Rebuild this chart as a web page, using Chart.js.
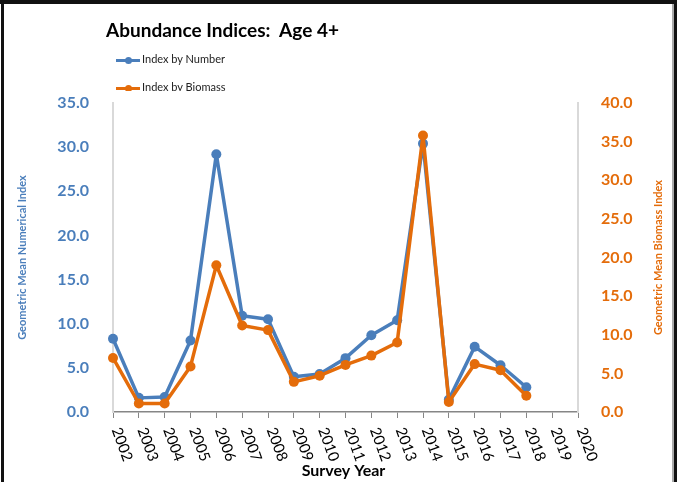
<!DOCTYPE html>
<html lang="en">
<head>
<meta charset="UTF-8">
<script src="https://cdn.jsdelivr.net/npm/chart.js"></script>
<title>Abundance Indices: Age 4+</title>
<style>
    body { margin: 0; background: #fff; }
    .wrap { position: relative; width: 677px; height: 482px; overflow: hidden; font-family: Lato, "Open Sans", sans-serif; }
    .wrap canvas { position: absolute; left: 0; top: 0; }
    .title { position: absolute; left: 106px; top: 18px; font-size: 19px; font-weight: bold; color: #000; white-space: pre; }
    .legend { position: absolute; left: 116px; top: 48px; width: 200px; height: 43px; overflow: hidden; font-size: 11px; color: #222; }
    .legend div { position: absolute; left: 0; height: 14px; line-height: 14px; white-space: nowrap; }
    .legend span.line { display: inline-block; position: relative; width: 24px; height: 3px; vertical-align: middle; margin-right: 2px; }
    .legend span.line:after { content: ""; position: absolute; left: 9px; top: -2px; width: 7px; height: 7px; border-radius: 50%; background: inherit; }
    .bord { position: absolute; background: #111; }
</style>
</head>
<body>
<div class="wrap">
    <canvas id="abundChart"></canvas>
    <div class="title">Abundance Indices:  Age 4+</div>
    <div class="legend">
        <div style="top:4px"><span class="line" style="background:#4a7ebb"></span>Index by Number</div>
        <div style="top:32px"><span class="line" style="background:#e46c0a"></span>Index by Biomass</div>
    </div>
    <div class="bord" style="left:0;top:0;width:677px;height:4px"></div>
    <div class="bord" style="left:1px;top:0;width:3px;height:482px"></div>
    <div class="bord" style="left:674px;top:0;width:3px;height:482px"></div>
    <div class="bord" style="left:672px;top:4px;width:2px;height:478px;background:#aaa"></div>
</div>

<script>
    const years = ['2002', '2003', '2004', '2005', '2006', '2007', '2008', '2009', '2010', '2011',
        '2012', '2013', '2014', '2015', '2016', '2017', '2018', '2019', '2020'];
    // 2002-2018 (no data for 2019, 2020)
    const indexByNumber = [8.3, 1.6, 1.7, 8.1, 29.2, 10.9, 10.5, 4.0, 4.3, 6.1, 8.7, 10.4, 30.4, 1.4, 7.4, 5.3, 2.8];
    const indexByBiomass = [7.0, 1.1, 1.1, 5.9, 19.0, 11.2, 10.6, 3.9, 4.7, 6.1, 7.3, 9.0, 35.8, 1.3, 6.2, 5.4, 2.1];
    const leftTicks = [0, 5, 10, 15, 20, 25, 30, 35];
    const rightTicks = [0, 5, 10, 15, 20, 25, 30, 35, 40];

    const blue = '#4a7ebb';
    const orange = '#e46c0a';

    // x labels rotated clockwise and the right axis title, drawn through the scales
    const extraText = {
        id: 'extraText',
        afterDraw(chart) {
            const ctx = chart.ctx;
            const x = chart.scales.x;
            ctx.save();
            ctx.fillStyle = '#000';
            ctx.font = '15px Lato';
            ctx.textAlign = 'left';
            ctx.textBaseline = 'middle';
            years.forEach((label, i) => {
                ctx.save();
                ctx.translate(x.getPixelForTick(i) + 3, x.top + 16);
                ctx.rotate(70 * Math.PI / 180);
                ctx.fillText(label, 0, 0);
                ctx.restore();
            });
            ctx.font = 'bold 16px Lato';
            ctx.textAlign = 'center';
            ctx.fillText('Survey Year', (chart.chartArea.left + chart.chartArea.right) / 2 - 2, 471);

            const yr = chart.scales.y1;
            ctx.fillStyle = orange;
            ctx.font = 'bold 11px Lato';
            ctx.translate(658, (yr.top + yr.bottom) / 2);
            ctx.rotate(-Math.PI / 2);
            ctx.fillText('Geometric Mean Biomass Index', 0, 0);
            ctx.restore();
        }
    };

    const ctx = document.getElementById('abundChart').getContext('2d');
    new Chart(ctx, {
        type: 'line',
        data: {
            labels: years,
            datasets: [
                {
                    label: 'Index by Biomass',
                    data: indexByBiomass,
                    yAxisID: 'y1',
                    borderColor: orange,
                    backgroundColor: orange,
                    borderWidth: 3.5,
                    borderJoinStyle: 'round',
                    borderCapStyle: 'round',
                    pointRadius: 5,
                    pointBorderWidth: 0,
                    tension: 0,
                    order: 0
                },
                {
                    label: 'Index by Number',
                    data: indexByNumber,
                    yAxisID: 'y',
                    borderColor: blue,
                    backgroundColor: blue,
                    borderWidth: 3.5,
                    borderJoinStyle: 'round',
                    borderCapStyle: 'round',
                    pointRadius: 5,
                    pointBorderWidth: 0,
                    tension: 0,
                    order: 1
                }
            ]
        },
        options: {
            responsive: true,
            maintainAspectRatio: false,
            animation: false,
            layout: { padding: { top: 103, left: 0, right: 0, bottom: 0 } },
            plugins: {
                legend: { display: false },
                title: { display: false },
                tooltip: { enabled: false }
            },
            scales: {
                x: {
                    type: 'category',
                    offset: false,
                    grid: { drawOnChartArea: false, drawTicks: true, tickLength: 6, color: '#868686' },
                    border: { color: '#868686', width: 1.5 },
                    ticks: { display: false },
                    afterFit(scale) { scale.height = 70; }
                },
                y: {
                    position: 'left',
                    min: 0,
                    max: 35,
                    afterBuildTicks(scale) { scale.ticks = leftTicks.map(v => ({ value: v })); },
                    grid: { display: false },
                    border: { color: '#d9d9d9', width: 2 },
                    ticks: {
                        padding: 16,
                        color: blue,
                        font: { family: 'Lato', size: 16, weight: 'bold' },
                        callback: v => v.toFixed(1)
                    },
                    title: {
                        display: true,
                        text: 'Geometric Mean Numerical Index',
                        color: blue,
                        font: { family: 'Lato', size: 11, weight: 'bold' },
                        padding: { top: 16, bottom: 0 }
                    },
                    afterFit(scale) { scale.width = 113; }
                },
                y1: {
                    position: 'right',
                    min: 0,
                    max: 40,
                    afterBuildTicks(scale) { scale.ticks = rightTicks.map(v => ({ value: v })); },
                    grid: { display: false },
                    border: { color: '#d9d9d9', width: 2 },
                    ticks: {
                        padding: 15,
                        color: orange,
                        font: { family: 'Lato', size: 16, weight: 'bold' },
                        callback: v => v.toFixed(1)
                    },
                    afterFit(scale) { scale.width = 99; }
                }
            }
        },
        plugins: [extraText]
    });
</script>
</body>
</html>
